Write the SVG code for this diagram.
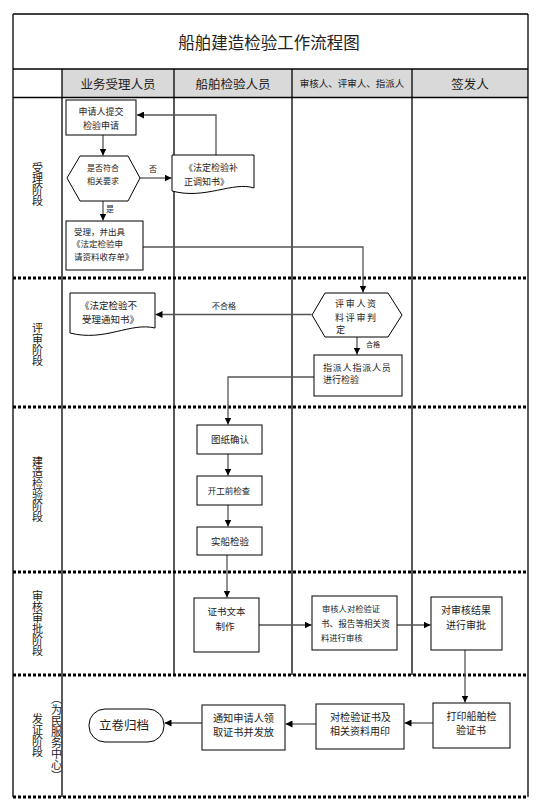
<svg xmlns="http://www.w3.org/2000/svg" width="541" height="809" viewBox="0 0 541 809">
<defs>
<marker id="ah" viewBox="0 0 10 10" refX="10" refY="5" markerWidth="7" markerHeight="7" markerUnits="userSpaceOnUse" orient="auto">
<path d="M0,0 L10,5 L0,10 Z" fill="#000"/>
</marker>
<style>
.frame{fill:none;stroke:#000;stroke-width:1.3}
.dot{fill:none;stroke:#000;stroke-width:3;stroke-dasharray:3 2}
.node{fill:#fff;stroke:#000;stroke-width:1}
.conn{fill:none;stroke:#555;stroke-width:1.3;marker-end:url(#ah)}
text{font-family:"Noto Sans CJK SC","Liberation Sans",sans-serif;fill:#222}
.t{font-size:9px}
.c{text-anchor:middle}
.lbl{font-size:8px}
.hd{font-size:12.5px;text-anchor:middle}
.ph{writing-mode:vertical-rl;text-anchor:middle;font-size:11px}
</style>
</defs>
<rect x="0" y="0" width="541" height="809" fill="#fff"/>
<g id="frame">
<rect x="62" y="69" width="466" height="28.5" fill="#d9d9d9"/>
<line class="frame" x1="13" y1="14" x2="528" y2="14"/>
<line class="frame" x1="13" y1="69" x2="528" y2="69"/>
<line class="frame" x1="13" y1="97.5" x2="528" y2="97.5"/>
<line class="frame" x1="13" y1="14" x2="13" y2="797"/>
<line class="frame" x1="528" y1="14" x2="528" y2="797"/>
<line class="frame" x1="62" y1="69" x2="62" y2="797"/>
<line class="frame" x1="174" y1="69" x2="174" y2="675"/>
<line class="frame" x1="292" y1="69" x2="292" y2="675"/>
<line class="frame" x1="412" y1="69" x2="412" y2="675"/>
<line class="dot" x1="13" y1="278" x2="528" y2="278"/>
<line class="dot" x1="13" y1="407" x2="528" y2="407"/>
<line class="dot" x1="13" y1="572" x2="528" y2="572"/>
<line class="dot" x1="13" y1="675" x2="528" y2="675"/>
<line class="dot" x1="13" y1="797" x2="528" y2="797"/>
<text x="269" y="49" font-size="16.5" text-anchor="middle">船舶建造检验工作流程图</text>
<text class="hd" x="118" y="89">业务受理人员</text>
<text class="hd" x="233" y="89">船舶检验人员</text>
<text x="352" y="87" font-size="9.5" text-anchor="middle">审核人、评审人、指派人</text>
<text class="hd" x="470" y="89">签发人</text>
<text class="ph" x="37.5" y="184">受理阶段</text>
<text class="ph" x="37.5" y="344" font-size="12">评审阶段</text>
<text class="ph" x="37.5" y="489" font-size="10.5">建造检验阶段</text>
<text class="ph" x="37.5" y="623.5" font-size="10.5">审核审批阶段</text>
<text class="ph" x="37.5" y="735">发证阶段</text>
<text class="ph" x="56.5" y="737.5" font-size="10">（为民服务中心）</text>
</g>
<g id="connectors">
<path class="conn" d="M216,155 V115 H137"/>
<path class="conn" d="M103,135 V155.5"/>
<path class="conn" d="M140,178 H171.5"/>
<path class="conn" d="M103,201 V220.5"/>
<path class="conn" d="M143,247 H363 V292.5"/>
<path class="conn" d="M311.5,314.5 H155.5"/>
<path class="conn" d="M357,337 V354.5"/>
<path class="conn" d="M314,377 H228 V424.5"/>
<path class="conn" d="M228,454 V475.5"/>
<path class="conn" d="M228,505 V526.5"/>
<path class="conn" d="M227,555 V597.5"/>
<path class="conn" d="M259,625 H311.5"/>
<path class="conn" d="M397,625 H430.5"/>
<path class="conn" d="M465,650 V702.5"/>
<path class="conn" d="M433,723 H404.5"/>
<path class="conn" d="M316,724 H285.5"/>
<path class="conn" d="M202,723 H164.5"/>
<text class="lbl" x="149" y="172">否</text>
<text class="lbl" x="106" y="212">是</text>
<text class="lbl" x="212" y="308.5">不合格</text>
<text x="366" y="347" font-size="7">合格</text>
</g>
<g id="n1">
<rect class="node" x="66" y="100" width="70" height="35"/>
<text class="t c" x="101" y="115">申请人提交</text>
<text class="t c" x="101" y="129">检验申请</text>
</g>
<g id="n2">
<polygon class="node" points="67,178 80,156 128,156 140,178 128,201 80,201"/>
<text class="c" x="103" y="171" font-size="8">是否符合</text>
<text class="c" x="103" y="183.5" font-size="8">相关要求</text>
</g>
<g id="n3">
<path class="node" d="M172,155 H254 V188 C233,181 205,200 172,191 Z"/>
<text class="t" x="184" y="171">《法定检验补</text>
<text class="t" x="184" y="184.5">正调知书》</text>
</g>
<g id="n4">
<rect class="node" x="66" y="221" width="77" height="49"/>
<text x="74" y="235" font-size="8.5">受理，并出具</text>
<text x="72" y="246.5" font-size="8.5">《法定检验申</text>
<text x="74" y="260" font-size="8.5">请资料收存单》</text>
</g>
<g id="n5">
<path class="node" d="M70,293 H155 V328 C130,322 105,342 70,333 Z"/>
<text x="80" y="308.5" font-size="9.5">《法定检验不</text>
<text x="82" y="322.5" font-size="9.5">受理通知书》</text>
</g>
<g id="n6">
<polygon class="node" points="312,315 325,293 388,293 402,315 388,337 325,337"/>
<text x="335" y="306.5" font-size="9" letter-spacing="1.7">评审人资</text>
<text x="335" y="320.5" font-size="9" letter-spacing="1.7">料评审判</text>
<text x="336" y="333" font-size="9">定</text>
</g>
<g id="n7">
<rect class="node" x="314" y="355" width="88" height="41"/>
<text x="323" y="370.5" font-size="9" letter-spacing="0.8">指派人指派人员</text>
<text x="323" y="382.5" font-size="9">进行检验</text>
</g>
<g id="n8">
<rect class="node" x="197" y="425" width="65" height="29"/>
<text class="c" x="230" y="443" font-size="9.5">图纸确认</text>
</g>
<g id="n9">
<rect class="node" x="197" y="476" width="65" height="29"/>
<text class="c" x="229" y="494" font-size="8.5">开工前检查</text>
</g>
<g id="n10">
<rect class="node" x="197" y="527" width="65" height="28"/>
<text class="c" x="230" y="544.5" font-size="9.5">实船检验</text>
</g>
<g id="n11">
<rect class="node" x="194" y="598" width="65" height="54"/>
<text class="c" x="226.5" y="615" font-size="9.5">证书文本</text>
<text class="c" x="225" y="630" font-size="9.5">制作</text>
</g>
<g id="n12">
<rect class="node" x="312" y="596" width="85" height="54"/>
<text x="322" y="612" font-size="8.3">审核人对检验证</text>
<text x="321" y="626.5" font-size="8.6">书、报告等相关资</text>
<text x="321" y="641" font-size="8.3">料进行审核</text>
</g>
<g id="n13">
<rect class="node" x="431" y="597" width="71" height="53"/>
<text class="c" x="466" y="613.5" font-size="10">对审核结果</text>
<text class="c" x="466" y="628.5" font-size="10">进行审批</text>
</g>
<g id="n14">
<rect class="node" x="433" y="703" width="77" height="45"/>
<text class="c" x="471.5" y="720" font-size="10">打印船舶检</text>
<text class="c" x="471" y="734" font-size="10">验证书</text>
</g>
<g id="n15">
<rect class="node" x="316" y="704" width="88" height="45"/>
<text class="c" x="360.5" y="721" font-size="10.2">对检验证书及</text>
<text class="c" x="360" y="735" font-size="10">相关资料用印</text>
</g>
<g id="n16">
<rect class="node" x="202" y="705" width="83" height="45"/>
<text class="c" x="243.5" y="721.5" font-size="10.2">通知申请人领</text>
<text class="c" x="243.5" y="735.5" font-size="10.2">取证书并发放</text>
</g>
<g id="n17">
<rect class="node" x="89" y="709" width="75" height="33" rx="16" ry="16"/>
<text class="c" x="124" y="730" font-size="12.5">立卷归档</text>
</g>
</svg>
